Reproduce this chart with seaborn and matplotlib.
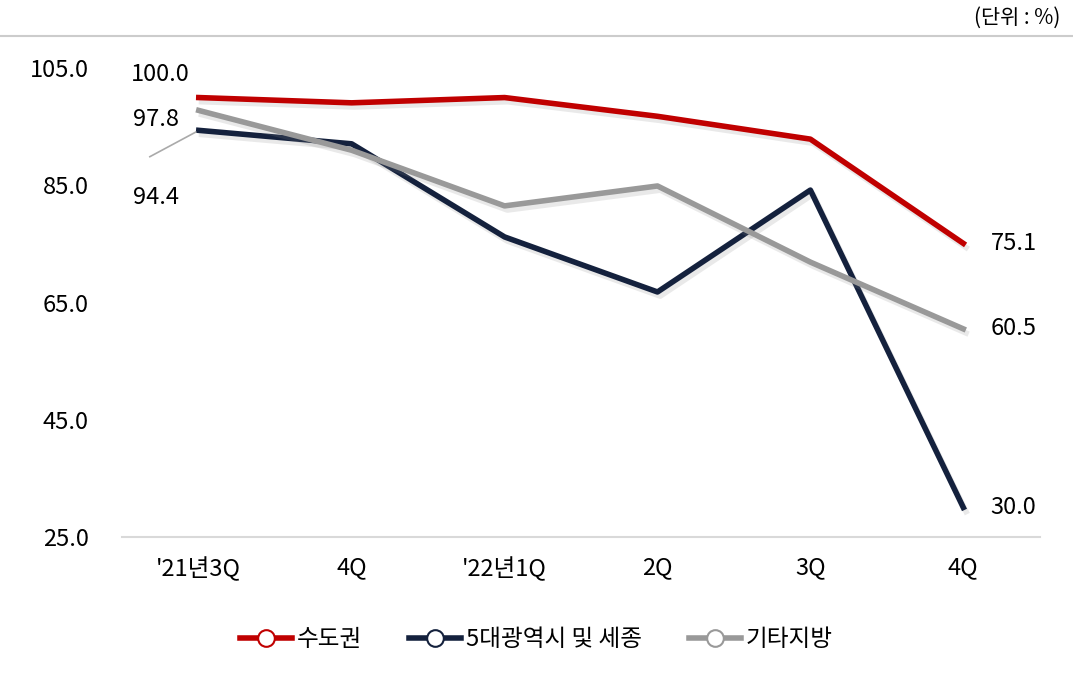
import numpy as np
import pandas as pd
import matplotlib
matplotlib.use("Agg")
import matplotlib.pyplot as plt
import matplotlib.patheffects as pe
from matplotlib.lines import Line2D
import seaborn as sns

plt.rcParams["font.family"] = ["Noto Sans CJK KR", "Noto Sans CJK JP", "Noto Sans CJK SC", "DejaVu Sans"]

quarters = ["'21년3Q", "4Q", "'22년1Q", "2Q", "3Q", "4Q"]
capital = [100.0, 99.1, 100.0, 96.8, 92.9, 75.1]
metro = [94.4, 92.1, 76.2, 66.8, 84.2, 30.0]
others = [97.8, 91.0, 81.5, 84.9, 71.9, 60.5]
names = ["수도권", "5대광역시 및 세종", "기타지방"]
colors = ["#c00000", "#14213d", "#999999"]

rows = []
for name, vals in zip(names, [capital, metro, others]):
    for i, v in enumerate(vals):
        rows.append({"q": i, "region": name, "value": v})
df = pd.DataFrame(rows)

fig = plt.figure(figsize=(10.73, 6.76), dpi=100)
ax = fig.add_axes([0.114, 0.206, 0.855, 0.693])
sns.lineplot(data=df, x="q", y="value", hue="region", palette=colors,
             hue_order=names, linewidth=4, ax=ax, legend=False)
shadow = [pe.SimpleLineShadow(offset=(2, -3), shadow_color="#888888", alpha=0.18), pe.Normal()]
for ln in ax.get_lines():
    ln.set_path_effects(shadow)

fs = 17
ax.set_xlim(-0.5, 5.5)
ax.set_ylim(25, 105)
ax.set_yticks([25, 45, 65, 85, 105])
ax.set_yticklabels([f"{t:.1f}" for t in [25, 45, 65, 85, 105]], fontsize=fs)
ax.set_xticks(range(6))
ax.set_xticklabels(quarters, fontsize=fs)
ax.tick_params(length=0, pad=14)
ax.tick_params(axis="y", pad=24)
for s in ["top", "right", "left"]:
    ax.spines[s].set_visible(False)
ax.spines["bottom"].set_color("#d9d9d9")
ax.spines["bottom"].set_linewidth(1.5)
ax.set_xlabel("")
ax.set_ylabel("")

# data labels
ax.text(-0.25, capital[0] + 4, f"{capital[0]:.1f}", fontsize=fs, ha="center", va="center")
ax.text(-0.28, others[0] - 1.5, f"{others[0]:.1f}", fontsize=fs, ha="center", va="center")
ax.text(-0.28, metro[0] - 11.5, f"{metro[0]:.1f}", fontsize=fs, ha="center", va="center")
ax.plot([-0.32, -0.02], [metro[0] - 4.5, metro[0] - 0.3], color="#aaaaaa", lw=1.2)
for vals in [capital, others, metro]:
    ax.text(5.18, vals[-1], f"{vals[-1]:.1f}", fontsize=fs, ha="left", va="center")

fig.add_artist(Line2D([0, 1], [1 - 36 / 676] * 2, color="#cccccc", lw=1.5))
fig.text(0.988, 1 - 18 / 676, "(단위 : %)", fontsize=15, ha="right", va="center")

handles = [Line2D([], [], color=c, lw=4, marker="o", markersize=12,
                  markerfacecolor="white", markeredgecolor=c, markeredgewidth=1.5)
           for c in colors]
fig.legend(handles, names, loc="center", bbox_to_anchor=(0.5, 1 - 640 / 676), ncol=3,
           frameon=False, fontsize=fs, handlelength=2.2, handletextpad=0.2, columnspacing=2)

fig.savefig("out.png", dpi=100)
